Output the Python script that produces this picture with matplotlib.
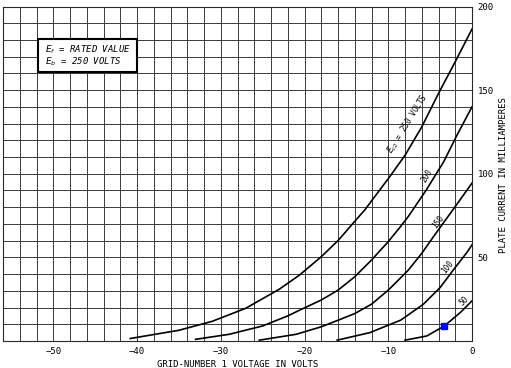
import matplotlib
matplotlib.use('Agg')
import matplotlib.pyplot as plt
from matplotlib.patches import Rectangle

# grid-number 1 voltage (V) and plate current (mA), one pair of lists per screen voltage
v_250 = [-40.8, -35, -31, -27, -23, -20.6, -18, -16, -14.2, -12.8, -9.8, -8, -6, -4, -2, 0]
i_250 = [1.5, 6.4, 11.8, 19.6, 31, 39.4, 50.4, 60, 70.4, 78.4, 98.4, 111, 128, 148, 167, 186.5]

v_200 = [-33, -29, -25, -22, -20.6, -18, -16, -14, -12, -10, -8.6, -7.6, -5.5, -3.4, -1.8, 0]
i_200 = [1, 4, 9, 15, 18.4, 24.5, 30.4, 38.4, 48.4, 59.4, 68, 74.5, 90, 107, 123, 140]

v_150 = [-25.4, -21, -18, -15.8, -14, -12, -10, -7.6, -6, -4.6, -2, 0]
i_150 = [0.5, 4, 8.5, 12.8, 16.4, 22, 30.4, 42.4, 52.4, 62.4, 80.4, 94.4]

v_100 = [-16.1, -12.2, -8.5, -5.8, -3.8, -2, -0.6, 0]
i_100 = [0.5, 5, 12.5, 22, 32, 44, 53, 57.5]

v_50 = [-8, -5.4, -3.3, -1.4, 0]
i_50 = [0.5, 3, 9, 17, 24]

curves = [(v_250, i_250), (v_200, i_200), (v_150, i_150), (v_100, i_100), (v_50, i_50)]

# curve labels: text, position, angle
curve_labels = ['$E_{c2}$ = 250 VOLTS', '200', '150', '100', '50']
label_v = [-7.7, -5.4, -4.0, -2.9, -1.0]
label_i = [130, 99, 71, 44, 24]
label_rot = [58, 58, 54, 51, 44]

op_point = (-3.3, 9)

xticks = [-50, -40, -30, -20, -10, 0]
yticks = [50, 100, 150, 200]

mono = 'DejaVu Sans Mono'

fig = plt.figure(figsize=(5.11, 3.68), dpi=100)
ax = fig.add_axes([3 / 511, 27 / 368, 469 / 511, 334.5 / 368])
ax.set_xlim(-56, 0)
ax.set_ylim(0, 200)

# graph paper
for x in range(-56, 1, 2):
    ax.axvline(x, color='#3a3a3a', lw=0.7, zorder=1)
for y in range(0, 201, 10):
    ax.axhline(y, color='#3a3a3a', lw=0.7, zorder=1)
for s in ax.spines.values():
    s.set_color('#2a2a2a')
    s.set_linewidth(0.8)

for v, i in curves:
    ax.plot(v, i, color='black', lw=1.2, zorder=3)

for txt, x, y, r in zip(curve_labels, label_v, label_i, label_rot):
    ax.text(x, y, txt, rotation=r, ha='center', va='center', fontsize=5.5,
            family=mono, zorder=4, rotation_mode='anchor')

ax.plot(*op_point, marker='s', color='#0000ff', markersize=5, zorder=5)

# conditions box
ax.add_patch(Rectangle((0.074, 0.804), 0.211, 0.1, transform=ax.transAxes,
                       fc='white', ec='black', lw=1.5, zorder=4))
ax.text(0.089, 0.872, '$E_f$ = RATED VALUE', transform=ax.transAxes, fontsize=6.5,
        family=mono, style='italic', va='center', zorder=5)
ax.text(0.089, 0.834, '$E_b$ = 250 VOLTS', transform=ax.transAxes, fontsize=6.5,
        family=mono, style='italic', va='center', zorder=5)

ax.set_xticks(xticks)
ax.set_xticklabels(['\u2212' + str(abs(t)) if t else '0' for t in xticks],
                   family=mono, fontsize=6.5)
ax.yaxis.tick_right()
ax.set_yticks(yticks)
ax.set_yticklabels([str(t) for t in yticks], family=mono, fontsize=6.5)
ax.tick_params(length=0, pad=4)

ax.set_xlabel('GRID-NUMBER 1 VOLTAGE IN VOLTS', family=mono, fontsize=6.5, labelpad=3)
fig.text(503 / 511, 1 - 175 / 368, 'PLATE CURRENT IN MILLIAMPERES', rotation=90,
         ha='center', va='center', family=mono, fontsize=6.5)

fig.savefig('out.png', dpi=100)
